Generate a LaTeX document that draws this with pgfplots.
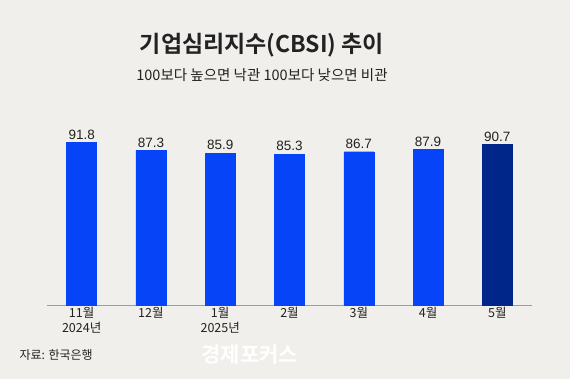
\documentclass[border=0pt]{standalone}
\usepackage{pgfplots}
\pgfplotsset{compat=1.18}
\usepackage{fontspec}
\setmainfont{Liberation Sans}
\newfontfamily\kr{Noto Sans CJK KR}
\newfontfamily\krb{Noto Sans CJK KR Bold}
\definecolor{bg}{HTML}{F0EFEB}
\definecolor{barblue}{HTML}{0645F7}
\definecolor{barnavy}{HTML}{00268A}
\definecolor{axgray}{HTML}{9C9C9C}
\definecolor{txt}{HTML}{222222}
\begin{document}
\begin{tikzpicture}
\fill[bg] (0,0) rectangle (570pt,379pt);
\node[font=\krb\fontsize{23}{26}\selectfont, text=txt] at (262pt,334pt) {기업심리지수(CBSI) 추이};
\node[font=\kr\fontsize{14.5}{16}\selectfont, text=txt] at (262pt,304pt) {100보다 높으면 낙관 100보다 낮으면 비관};
\node[font=\kr\fontsize{12}{14}\selectfont, text=txt, anchor=west] at (16pt,24pt) {자료: 한국은행};
\node[font=\krb\fontsize{21}{24}\selectfont, text=white, anchor=west] at (198pt,24pt) {경제포커스};
\begin{axis}[
  at={(47pt,74pt)}, anchor=south west,
  scale only axis, width=485pt, height=176.8pt,
  xmin=-0.5, xmax=6.5, ymin=0, ymax=100,
  axis x line*=bottom, axis y line=none,
  x axis line style={draw=axgray, line width=0.8pt, -},
  ytick=\empty,
  xtick={0,1,2,3,4,5,6},
  xticklabels={{11월\\2024년},12월,{1월\\2025년},2월,3월,4월,5월},
  xticklabel style={font=\kr\fontsize{12.5}{15}\selectfont, text=txt, align=center, anchor=north, inner sep=1.5pt},
  major tick length=0pt,
  ybar, bar width=30pt, bar shift=0pt,
  nodes near coords,
  nodes near coords style={font=\fontsize{13.5}{15}\selectfont, text=txt, /pgf/number format/fixed, /pgf/number format/fixed zerofill, /pgf/number format/precision=1, /pgf/number format/assume math mode=true, inner sep=3pt},
  clip=false,
]
\addplot[fill=barblue, draw=barblue] coordinates {(0,91.8) (1,87.3) (2,85.9) (3,85.3) (4,86.7) (5,87.9)};
\addplot[fill=barnavy, draw=barnavy] coordinates {(6,90.7)};
\end{axis}
\end{tikzpicture}
\end{document}
